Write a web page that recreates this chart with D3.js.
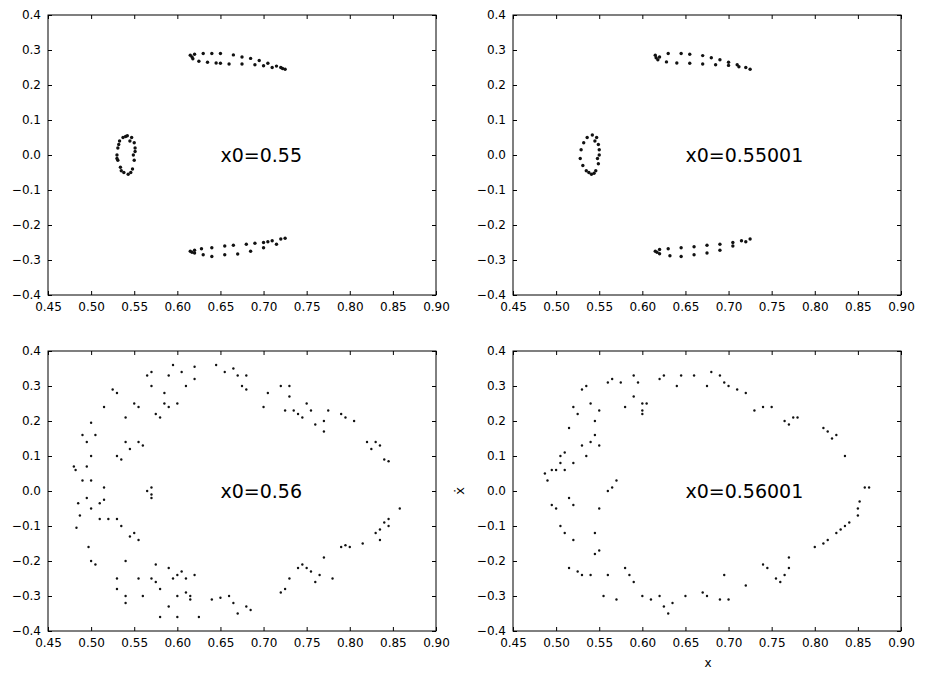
<!DOCTYPE html><html><head><meta charset="utf-8"><script src="https://d3js.org/d3.v7.min.js"></script>
<style>body{margin:0;background:#fff}text{font-family:"DejaVu Sans",sans-serif}</style></head><body><svg id="c" width="926" height="679"></svg>
<script>
const xTicks=[0.45,0.50,0.55,0.60,0.65,0.70,0.75,0.80,0.85,0.90];
const yTicks=[-0.4,-0.3,-0.2,-0.1,0.0,0.1,0.2,0.3,0.4];
const labels=["x0=0.55","x0=0.55001","x0=0.56","x0=0.56001"];
const ptsA=[[0.53,0.0],[0.531,0.02],[0.533,0.04],[0.537,0.05],[0.542,0.055],[0.547,0.05],[0.55,0.035],[0.551,0.01],[0.55,-0.015],[0.548,-0.04],[0.543,-0.055],[0.538,-0.05],[0.534,-0.035],[0.531,-0.015],[0.545,0.04],[0.549,0.0],[0.535,-0.045],[0.532,0.03],[0.54,0.053],[0.551,0.02],[0.546,-0.05],[0.53,-0.01],
[0.615,0.285],[0.62,0.288],[0.63,0.29],[0.64,0.29],[0.65,0.29],[0.665,0.286],[0.675,0.28],[0.685,0.276],[0.695,0.27],[0.705,0.262],[0.715,0.254],[0.72,0.25],[0.725,0.245],[0.618,0.275],[0.625,0.268],[0.635,0.265],[0.65,0.262],[0.66,0.26],[0.675,0.26],[0.69,0.258],[0.7,0.255],[0.71,0.25],[0.722,0.247],[0.617,0.28],[0.645,0.263],
[0.615,-0.275],[0.62,-0.272],[0.628,-0.268],[0.64,-0.265],[0.655,-0.26],[0.665,-0.258],[0.68,-0.255],[0.69,-0.252],[0.7,-0.25],[0.71,-0.245],[0.72,-0.24],[0.725,-0.238],[0.62,-0.28],[0.63,-0.285],[0.64,-0.29],[0.655,-0.285],[0.67,-0.283],[0.685,-0.275],[0.7,-0.265],[0.715,-0.255],[0.617,-0.278],[0.705,-0.248]];
const ptsB=[[0.528,-0.01],[0.529,0.015],[0.532,0.035],[0.536,0.05],[0.542,0.057],[0.547,0.05],[0.549,0.03],[0.55,0.0],[0.549,-0.025],[0.546,-0.045],[0.541,-0.055],[0.535,-0.045],[0.531,-0.03],[0.545,0.04],[0.548,-0.01],[0.538,-0.05],[0.55,0.015],[0.544,-0.052],
[0.615,0.285],[0.62,0.28],[0.63,0.29],[0.645,0.29],[0.655,0.288],[0.67,0.284],[0.68,0.278],[0.69,0.272],[0.7,0.265],[0.71,0.258],[0.72,0.25],[0.725,0.245],[0.618,0.272],[0.628,0.266],[0.64,0.263],[0.655,0.262],[0.67,0.26],[0.685,0.258],[0.7,0.256],[0.712,0.252],[0.616,0.278],
[0.615,-0.275],[0.62,-0.27],[0.63,-0.268],[0.645,-0.265],[0.66,-0.262],[0.675,-0.258],[0.69,-0.255],[0.705,-0.25],[0.715,-0.245],[0.725,-0.24],[0.62,-0.282],[0.632,-0.288],[0.645,-0.29],[0.66,-0.285],[0.675,-0.28],[0.69,-0.272],[0.705,-0.26],[0.72,-0.248],[0.617,-0.278]];
const ptsC=[[0.48,0.07],[0.482,0.06],[0.49,0.03],[0.485,-0.035],[0.487,-0.07],[0.483,-0.105],[0.49,0.16],[0.495,0.14],[0.5,0.195],[0.505,0.16],[0.5,0.1],[0.495,0.07],[0.5,0.03],[0.495,-0.02],[0.5,-0.05],[0.497,-0.16],[0.5,-0.2],[0.505,-0.21],[0.51,-0.08],[0.52,-0.08],[0.515,-0.025],[0.51,-0.035],[0.515,0.01],[0.515,0.24],[0.525,0.29],[0.53,0.28],[0.53,0.1],[0.535,0.09],[0.54,0.14],[0.545,0.12],[0.55,0.25],[0.555,0.24],[0.56,0.13],[0.555,0.14],[0.54,0.21],[0.53,-0.08],[0.535,-0.1],[0.54,-0.2],[0.545,-0.13],[0.55,-0.12],[0.555,-0.14],[0.53,-0.25],[0.53,-0.28],[0.54,-0.3],[0.54,-0.32],[0.555,-0.25],[0.56,-0.3],[0.565,0.33],[0.57,0.34],[0.57,0.3],[0.565,0.0],[0.57,-0.01],[0.57,0.01],[0.57,-0.02],[0.575,-0.21],[0.57,-0.25],[0.575,-0.26],[0.58,-0.28],[0.575,0.22],[0.58,0.21],[0.585,0.25],[0.585,0.28],[0.59,0.33],[0.595,0.36],[0.59,0.24],[0.6,0.25],[0.605,0.34],[0.61,0.3],[0.62,0.32],[0.62,0.355],[0.59,-0.22],[0.595,-0.25],[0.6,-0.24],[0.605,-0.23],[0.61,-0.25],[0.58,-0.36],[0.59,-0.33],[0.6,-0.36],[0.6,-0.3],[0.61,-0.29],[0.615,-0.31],[0.62,-0.24],[0.615,-0.3],[0.625,-0.36],[0.64,-0.31],[0.65,-0.305],[0.645,0.36],[0.655,0.34],[0.665,0.35],[0.67,0.33],[0.675,0.3],[0.68,0.29],[0.68,0.33],[0.66,-0.3],[0.665,-0.32],[0.67,-0.35],[0.68,-0.33],[0.685,-0.34],[0.7,0.24],[0.705,0.28],[0.72,0.3],[0.725,0.23],[0.73,0.27],[0.73,0.3],[0.735,0.23],[0.74,0.22],[0.745,0.21],[0.75,0.25],[0.755,0.23],[0.76,0.19],[0.77,0.2],[0.775,0.23],[0.77,0.17],[0.79,0.22],[0.795,0.21],[0.805,0.2],[0.72,-0.29],[0.725,-0.28],[0.73,-0.25],[0.74,-0.22],[0.745,-0.21],[0.75,-0.22],[0.755,-0.23],[0.76,-0.26],[0.765,-0.24],[0.77,-0.19],[0.78,-0.25],[0.79,-0.16],[0.795,-0.155],[0.8,-0.16],[0.815,-0.15],[0.82,0.14],[0.825,0.12],[0.83,0.14],[0.835,0.13],[0.84,0.09],[0.845,0.085],[0.835,-0.11],[0.84,-0.09],[0.845,-0.08],[0.835,-0.14],[0.83,-0.12],[0.858,-0.05],[0.845,-0.1]];
const ptsD=[[0.49,0.03],[0.487,0.05],[0.495,0.06],[0.5,0.06],[0.505,0.08],[0.51,0.11],[0.505,0.1],[0.515,0.18],[0.52,0.24],[0.525,0.22],[0.53,0.29],[0.535,0.3],[0.54,0.25],[0.545,0.2],[0.55,0.13],[0.545,0.16],[0.55,0.23],[0.56,0.31],[0.565,0.32],[0.575,0.31],[0.58,0.24],[0.59,0.27],[0.59,0.33],[0.595,0.31],[0.6,0.22],[0.605,0.25],[0.62,0.32],[0.625,0.33],[0.64,0.3],[0.645,0.33],[0.66,0.33],[0.675,0.3],[0.68,0.34],[0.69,0.33],[0.695,0.31],[0.7,0.3],[0.71,0.29],[0.72,0.28],[0.73,0.23],[0.74,0.24],[0.75,0.24],[0.765,0.2],[0.77,0.19],[0.775,0.21],[0.78,0.21],[0.81,0.18],[0.815,0.17],[0.82,0.15],[0.825,0.16],[0.835,0.1],[0.495,-0.04],[0.5,-0.05],[0.505,-0.1],[0.51,-0.12],[0.515,-0.02],[0.52,-0.04],[0.52,-0.14],[0.515,-0.22],[0.525,-0.23],[0.53,-0.24],[0.54,-0.24],[0.545,-0.18],[0.55,-0.17],[0.545,-0.12],[0.55,-0.05],[0.555,-0.3],[0.56,0.0],[0.565,0.01],[0.57,0.03],[0.56,-0.24],[0.57,-0.31],[0.58,-0.22],[0.585,-0.24],[0.59,-0.26],[0.6,-0.3],[0.61,-0.31],[0.62,-0.3],[0.625,-0.33],[0.63,-0.35],[0.635,-0.32],[0.65,-0.3],[0.67,-0.29],[0.675,-0.3],[0.69,-0.31],[0.695,-0.24],[0.7,-0.31],[0.72,-0.27],[0.74,-0.21],[0.745,-0.22],[0.755,-0.25],[0.76,-0.26],[0.765,-0.24],[0.77,-0.19],[0.77,-0.22],[0.8,-0.16],[0.81,-0.15],[0.815,-0.14],[0.825,-0.12],[0.83,-0.11],[0.84,-0.09],[0.85,-0.07],[0.85,-0.05],[0.852,-0.03],[0.858,0.01],[0.863,0.01],[0.835,-0.1],[0.53,0.13],[0.535,0.1],[0.54,0.14],[0.6,0.23],[0.6,0.25],[0.52,0.08],[0.51,0.06]];
const panels=[{x0:48,y0:15,pts:ptsA,r:1.7},{x0:513,y0:15,pts:ptsB,r:1.7},{x0:48,y0:351,pts:ptsC,r:1.2},{x0:513,y0:351,pts:ptsD,r:1.2}];
const W=388,H=280;
const svg=d3.select("#c");
panels.forEach((p,i)=>{
  const g=svg.append("g").attr("transform",`translate(${p.x0},${p.y0})`);
  const x=d3.scaleLinear().domain([0.45,0.9]).range([0,W]);
  const y=d3.scaleLinear().domain([-0.4,0.4]).range([H,0]);
  const fmt=d3.format(".2f"),fy=d3.format(".1f");
  const style=a=>{a.select(".domain").remove();a.selectAll("line").attr("stroke","#000");a.selectAll("text").attr("font-size","12px").attr("fill","#000").attr("font-family","DejaVu Sans");};
  g.append("g").attr("transform",`translate(0,${H})`).call(d3.axisBottom(x).tickValues(xTicks).tickFormat(fmt).tickSizeInner(-4).tickPadding(7)).call(style);
  g.append("g").call(d3.axisLeft(y).tickValues(yTicks).tickFormat(fy).tickSizeInner(-4).tickPadding(7)).call(style);
  g.append("g").call(d3.axisTop(x).tickValues(xTicks).tickFormat("").tickSizeInner(-4)).call(style);
  g.append("g").attr("transform",`translate(${W},0)`).call(d3.axisRight(y).tickValues(yTicks).tickFormat("").tickSizeInner(-4)).call(style);
  g.selectAll("circle").data(p.pts).join("circle").attr("cx",d=>x(d[0])).attr("cy",d=>y(d[1])).attr("r",p.r).attr("fill","#111");
  g.append("rect").attr("width",W).attr("height",H).attr("fill","none").attr("stroke","#000").attr("stroke-width",1);
  g.append("text").attr("x",x(0.65)).attr("y",y(0)).attr("dy","0.35em").attr("font-size","19px").text(labels[i]);
});
svg.append("text").attr("x",708).attr("y",667).attr("text-anchor","middle").attr("font-size","12px").text("x");
svg.append("text").attr("transform","translate(464,491) rotate(-90)").attr("text-anchor","middle").attr("font-size","13px").text("ẋ");
</script></body></html>
